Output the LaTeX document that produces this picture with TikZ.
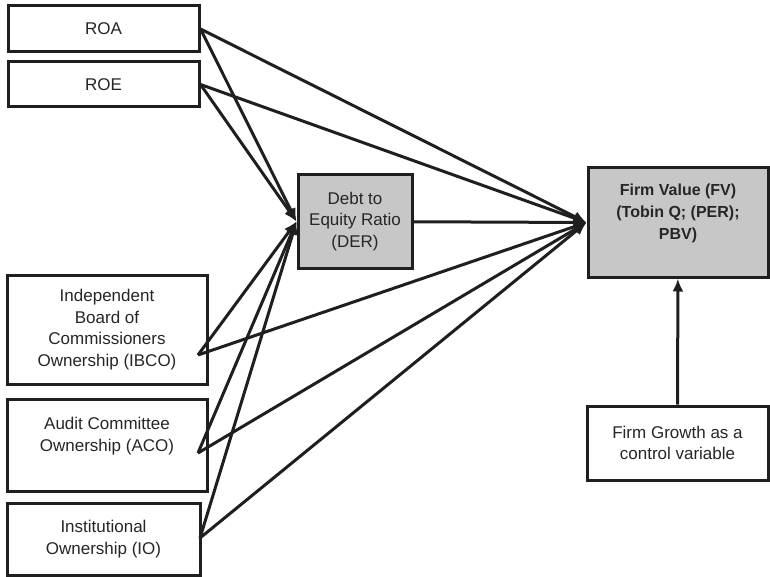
\documentclass[tikz,border=0pt]{standalone}
\usepackage{fontspec}
\setmainfont{Liberation Sans}
\usepackage{tikz}
\usetikzlibrary{arrows.meta}

\begin{document}
\begin{tikzpicture}[x=1pt,y=-1pt,
  var/.style={draw=black!88,line width=3pt,fill=white,align=center,text=black!85,
    inner sep=0pt,font=\fontsize{17}{21.7}\selectfont},
  med/.style={var,fill=black!22},
  rel/.style={-{Latex[length=13pt,width=11pt]},line width=3pt,draw=black!88}]
  \useasboundingbox (0,0) rectangle (770,577);

  \draw (103.5,29) node[var,minimum width=191,minimum height=46] (roa) {ROA};
  \draw (103.5,84.5) node[var,minimum width=191,minimum height=45] (roe) {ROE};
  \draw (107,329.5) node[var,minimum width=200,minimum height=109] (ibco)
     {Independent\\Board of\\Commissioners\\Ownership (IBCO)};
  \draw (107,445) node[var,minimum width=200,minimum height=92] (aco)
     {Audit Committee\\Ownership (ACO)\\\mbox{}};
  \draw (103.5,539) node[var,minimum width=193,minimum height=72] (io)
     {Institutional\\Ownership (IO)};
  \draw (355,221.5) node[med,minimum width=114,minimum height=93] (der)
     {Debt to\\Equity Ratio\\(DER)};
  \draw (678,222.5) node[med,minimum width=180,minimum height=109,font=\fontsize{16}{21.7}\selectfont\bfseries] (fv)
     {Firm Value (FV)\\(Tobin Q; (PER);\\PBV)\\\mbox{}};
  \draw (677.5,443) node[var,minimum width=181,minimum height=74] (growth)
     {Firm Growth as a\\control variable};

  % lines leave the lower boxes a bit inside their right edge
  \coordinate (ibcoout) at (198,355);
  \coordinate (acoout) at (198,453);
  \coordinate (ioout) at (200,538);

  \draw[rel] (roa.east) -- (der.west);
  \draw[rel] (roa.east) -- (fv.west);
  \draw[rel] (roe.east) -- (der.west);
  \draw[rel] (roe.east) -- (fv.west);
  \draw[rel] (ibcoout) -- (der.west);
  \draw[rel] (ibcoout) -- (fv.west);
  \draw[rel] (acoout) -- (der.west);
  \draw[rel] (acoout) -- (fv.west);
  \draw[rel] (ioout) -- (der.west);
  \draw[rel] (ioout) -- (fv.west);
  \draw[rel] (der) -- (fv.west);
  \draw[rel] (growth) -- (fv);
\end{tikzpicture}
\end{document}
